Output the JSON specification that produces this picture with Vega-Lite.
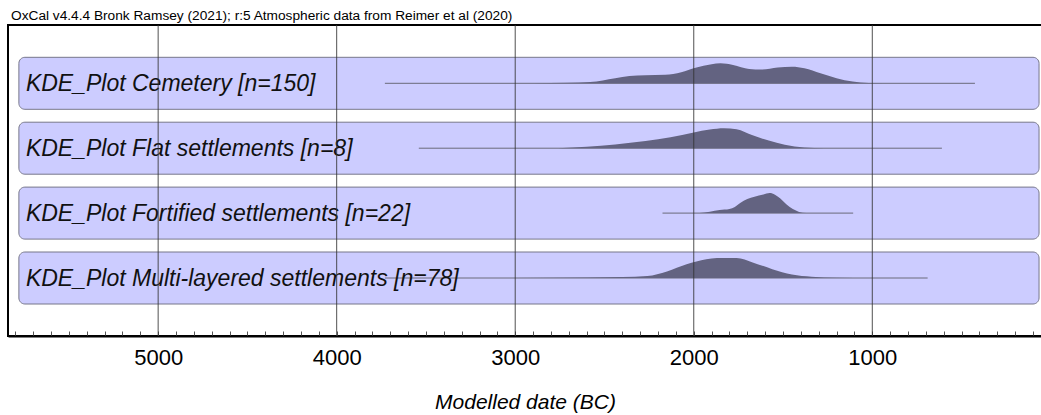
{
  "$schema": "https://vega.github.io/schema/vega-lite/v6.json",
  "width": 1034,
  "height": 311,
  "autosize": {"type": "none"},
  "padding": {"left": 8, "top": 25, "right": 0, "bottom": 79},
  "background": "white",
  "config": {"view": {"stroke": "black", "strokeWidth": 2}, "font": "Liberation Sans"},
  "title": {"text": "OxCal v4.4.4 Bronk Ramsey (2021); r:5 Atmospheric data from Reimer et al (2020)", "anchor": "start", "frame": "group", "fontSize": 13.7, "fontWeight": "normal", "font": "Liberation Sans", "color": "black", "offset": 2, "dx": 3},
  "datasets": {
    "groups": [
      {"group": "Cemetery", "label": "KDE_Plot Cemetery [n=150]", "start": 3730, "end": 425},
      {"group": "Flat", "label": "KDE_Plot Flat settlements [n=8]", "start": 3540, "end": 610},
      {"group": "Fortified", "label": "KDE_Plot Fortified settlements [n=22]", "start": 2175, "end": 1107},
      {"group": "Multi", "label": "KDE_Plot Multi-layered settlements [n=78]", "start": 3730, "end": 690}
    ],
    "cemetery": [
      {"year": 2900, "density": 0.0}, {"year": 2710, "density": 0.025}, {"year": 2580, "density": 0.06}, {"year": 2440, "density": 0.25},
      {"year": 2360, "density": 0.36}, {"year": 2270, "density": 0.4}, {"year": 2160, "density": 0.425}, {"year": 2070, "density": 0.55},
      {"year": 1990, "density": 0.775}, {"year": 1900, "density": 0.95}, {"year": 1850, "density": 1.0}, {"year": 1780, "density": 0.915},
      {"year": 1690, "density": 0.715}, {"year": 1620, "density": 0.685}, {"year": 1530, "density": 0.785}, {"year": 1450, "density": 0.825},
      {"year": 1380, "density": 0.75}, {"year": 1290, "density": 0.5}, {"year": 1200, "density": 0.25}, {"year": 1110, "density": 0.085},
      {"year": 1020, "density": 0.015}, {"year": 850, "density": 0.0}
    ],
    "flat": [
      {"year": 2760, "density": 0.0}, {"year": 2600, "density": 0.067}, {"year": 2440, "density": 0.19}, {"year": 2270, "density": 0.357},
      {"year": 2130, "density": 0.548}, {"year": 2000, "density": 0.786}, {"year": 1910, "density": 0.933}, {"year": 1830, "density": 1.0},
      {"year": 1760, "density": 0.943}, {"year": 1670, "density": 0.643}, {"year": 1580, "density": 0.381}, {"year": 1490, "density": 0.167},
      {"year": 1380, "density": 0.033}, {"year": 1270, "density": 0.0}
    ],
    "fortified": [
      {"year": 1968, "density": 0.0}, {"year": 1910, "density": 0.066}, {"year": 1855, "density": 0.15}, {"year": 1800, "density": 0.2},
      {"year": 1770, "density": 0.3}, {"year": 1740, "density": 0.5}, {"year": 1700, "density": 0.7}, {"year": 1660, "density": 0.82},
      {"year": 1610, "density": 0.93}, {"year": 1575, "density": 1.0}, {"year": 1545, "density": 0.92}, {"year": 1515, "density": 0.73},
      {"year": 1480, "density": 0.43}, {"year": 1445, "density": 0.2}, {"year": 1410, "density": 0.06}, {"year": 1370, "density": 0.0}
    ],
    "multi": [
      {"year": 3000, "density": 0.0}, {"year": 2600, "density": 0.025}, {"year": 2400, "density": 0.05}, {"year": 2260, "density": 0.1},
      {"year": 2150, "density": 0.33}, {"year": 2040, "density": 0.69}, {"year": 1930, "density": 0.94}, {"year": 1870, "density": 1.0},
      {"year": 1760, "density": 1.0}, {"year": 1670, "density": 0.78}, {"year": 1560, "density": 0.44}, {"year": 1450, "density": 0.18},
      {"year": 1340, "density": 0.067}, {"year": 1200, "density": 0.015}, {"year": 1000, "density": 0.0}
    ],
    "grid": [{"year": 1000}, {"year": 2000}, {"year": 3000}, {"year": 4000}, {"year": 5000}]
  },
  "resolve": {"scale": {"y": "independent"}, "axis": {"x": "independent"}},
  "layer": [
    {
      "data": {"name": "grid"},
      "mark": {"type": "rule", "color": "#3a3a3a", "strokeWidth": 1, "opacity": 0.0},
      "encoding": {
        "x": {"field": "year", "type": "quantitative",
              "scale": {"domain": [49.4, 5841], "reverse": true, "nice": false, "zero": false},
              "axis": {
                "values": [100,200,300,400,500,600,700,800,900,1000,1100,1200,1300,1400,1500,1600,1700,1800,1900,2000,2100,2200,2300,2400,2500,2600,2700,2800,2900,3000,3100,3200,3300,3400,3500,3600,3700,3800,3900,4000,4100,4200,4300,4400,4500,4600,4700,4800,4900,5000,5100,5200,5300,5400,5500,5600,5700,5800],
                "labelExpr": "datum.value % 1000 === 0 ? format(datum.value, 'd') : ''",
                "labelFontSize": 22, "labelFont": "Liberation Sans", "labelColor": "black",
                "labelPadding": 16, "labelOverlap": false, "labelFlush": false,
                "tickSize": -5, "tickColor": "#555555", "tickWidth": 1,
                "domainColor": "black", "domainWidth": 2, "grid": false,
                "title": "Modelled date (BC)", "titleFontSize": 21, "titleFontStyle": "italic", "titleFontWeight": "normal",
                "titleFont": "Liberation Sans", "titleColor": "black", "titlePadding": 23
              }}
      }
    },
    {
      "layer": [
        {"data": {"name": "groups"}, "transform": [{"filter": "datum.group === 'Cemetery'"}],
         "mark": {"type": "rect", "fill": "#ccccff", "stroke": "#77778a", "strokeWidth": 1, "cornerRadius": 6},
         "encoding": {"x": {"datum": 5780, "type": "quantitative", "axis": null}, "x2": {"datum": 66},
                      "y": {"datum": -1.3, "type": "quantitative", "scale": {"domain": [-12.635, 2.915], "nice": false, "zero": false}, "axis": null}, "y2": {"datum": 1.3}}},
        {"data": {"name": "groups"}, "transform": [{"filter": "datum.group === 'Cemetery'"}],
         "mark": {"type": "rule", "color": "#6a6a7a", "strokeWidth": 1},
         "encoding": {"x": {"field": "start", "type": "quantitative", "axis": null}, "x2": {"field": "end"}, "y": {"datum": 0, "type": "quantitative", "axis": null}}},
        {"data": {"name": "cemetery"},
         "mark": {"type": "area", "fill": "#636381", "interpolate": "monotone"},
         "encoding": {"x": {"field": "year", "type": "quantitative", "axis": null}, "y": {"field": "density", "type": "quantitative", "axis": null}, "y2": {"datum": 0}}},
        {"data": {"name": "groups"}, "transform": [{"filter": "datum.group === 'Cemetery'"}],
         "mark": {"type": "text", "align": "left", "baseline": "alphabetic", "dx": 7, "dy": 8, "fontSize": 23, "fontStyle": "italic", "font": "Liberation Sans", "color": "#111111"},
         "encoding": {"x": {"datum": 5780, "type": "quantitative", "axis": null}, "y": {"datum": 0, "type": "quantitative", "axis": null}, "text": {"field": "label"}}}
      ]
    },
    {
      "layer": [
        {"data": {"name": "groups"}, "transform": [{"filter": "datum.group === 'Flat'"}],
         "mark": {"type": "rect", "fill": "#ccccff", "stroke": "#77778a", "strokeWidth": 1, "cornerRadius": 6},
         "encoding": {"x": {"datum": 5780, "type": "quantitative", "axis": null}, "x2": {"datum": 66},
                      "y": {"datum": -1.3, "type": "quantitative", "scale": {"domain": [-9.39, 6.16], "nice": false, "zero": false}, "axis": null}, "y2": {"datum": 1.3}}},
        {"data": {"name": "groups"}, "transform": [{"filter": "datum.group === 'Flat'"}],
         "mark": {"type": "rule", "color": "#6a6a7a", "strokeWidth": 1},
         "encoding": {"x": {"field": "start", "type": "quantitative", "axis": null}, "x2": {"field": "end"}, "y": {"datum": 0, "type": "quantitative", "axis": null}}},
        {"data": {"name": "flat"},
         "mark": {"type": "area", "fill": "#636381", "interpolate": "monotone"},
         "encoding": {"x": {"field": "year", "type": "quantitative", "axis": null}, "y": {"field": "density", "type": "quantitative", "axis": null}, "y2": {"datum": 0}}},
        {"data": {"name": "groups"}, "transform": [{"filter": "datum.group === 'Flat'"}],
         "mark": {"type": "text", "align": "left", "baseline": "alphabetic", "dx": 7, "dy": 8, "fontSize": 23, "fontStyle": "italic", "font": "Liberation Sans", "color": "#111111"},
         "encoding": {"x": {"datum": 5780, "type": "quantitative", "axis": null}, "y": {"datum": 0, "type": "quantitative", "axis": null}, "text": {"field": "label"}}}
      ]
    },
    {
      "layer": [
        {"data": {"name": "groups"}, "transform": [{"filter": "datum.group === 'Fortified'"}],
         "mark": {"type": "rect", "fill": "#ccccff", "stroke": "#77778a", "strokeWidth": 1, "cornerRadius": 6},
         "encoding": {"x": {"datum": 5780, "type": "quantitative", "axis": null}, "x2": {"datum": 66},
                      "y": {"datum": -1.3, "type": "quantitative", "scale": {"domain": [-6.145, 9.405], "nice": false, "zero": false}, "axis": null}, "y2": {"datum": 1.3}}},
        {"data": {"name": "groups"}, "transform": [{"filter": "datum.group === 'Fortified'"}],
         "mark": {"type": "rule", "color": "#6a6a7a", "strokeWidth": 1},
         "encoding": {"x": {"field": "start", "type": "quantitative", "axis": null}, "x2": {"field": "end"}, "y": {"datum": 0, "type": "quantitative", "axis": null}}},
        {"data": {"name": "fortified"},
         "mark": {"type": "area", "fill": "#636381", "interpolate": "monotone"},
         "encoding": {"x": {"field": "year", "type": "quantitative", "axis": null}, "y": {"field": "density", "type": "quantitative", "axis": null}, "y2": {"datum": 0}}},
        {"data": {"name": "groups"}, "transform": [{"filter": "datum.group === 'Fortified'"}],
         "mark": {"type": "text", "align": "left", "baseline": "alphabetic", "dx": 7, "dy": 8, "fontSize": 23, "fontStyle": "italic", "font": "Liberation Sans", "color": "#111111"},
         "encoding": {"x": {"datum": 5780, "type": "quantitative", "axis": null}, "y": {"datum": 0, "type": "quantitative", "axis": null}, "text": {"field": "label"}}}
      ]
    },
    {
      "layer": [
        {"data": {"name": "groups"}, "transform": [{"filter": "datum.group === 'Multi'"}],
         "mark": {"type": "rect", "fill": "#ccccff", "stroke": "#77778a", "strokeWidth": 1, "cornerRadius": 6},
         "encoding": {"x": {"datum": 5780, "type": "quantitative", "axis": null}, "x2": {"datum": 66},
                      "y": {"datum": -1.3, "type": "quantitative", "scale": {"domain": [-2.9, 12.65], "nice": false, "zero": false}, "axis": null}, "y2": {"datum": 1.3}}},
        {"data": {"name": "groups"}, "transform": [{"filter": "datum.group === 'Multi'"}],
         "mark": {"type": "rule", "color": "#6a6a7a", "strokeWidth": 1},
         "encoding": {"x": {"field": "start", "type": "quantitative", "axis": null}, "x2": {"field": "end"}, "y": {"datum": 0, "type": "quantitative", "axis": null}}},
        {"data": {"name": "multi"},
         "mark": {"type": "area", "fill": "#636381", "interpolate": "monotone"},
         "encoding": {"x": {"field": "year", "type": "quantitative", "axis": null}, "y": {"field": "density", "type": "quantitative", "axis": null}, "y2": {"datum": 0}}},
        {"data": {"name": "groups"}, "transform": [{"filter": "datum.group === 'Multi'"}],
         "mark": {"type": "text", "align": "left", "baseline": "alphabetic", "dx": 7, "dy": 8, "fontSize": 23, "fontStyle": "italic", "font": "Liberation Sans", "color": "#111111"},
         "encoding": {"x": {"datum": 5780, "type": "quantitative", "axis": null}, "y": {"datum": 0, "type": "quantitative", "axis": null}, "text": {"field": "label"}}}
      ]
    },
    {
      "data": {"name": "grid"},
      "mark": {"type": "rule", "color": "#333333", "strokeWidth": 1, "opacity": 0.85},
      "encoding": {
        "x": {"field": "year", "type": "quantitative", "axis": null}
      }
    }
  ]
}
